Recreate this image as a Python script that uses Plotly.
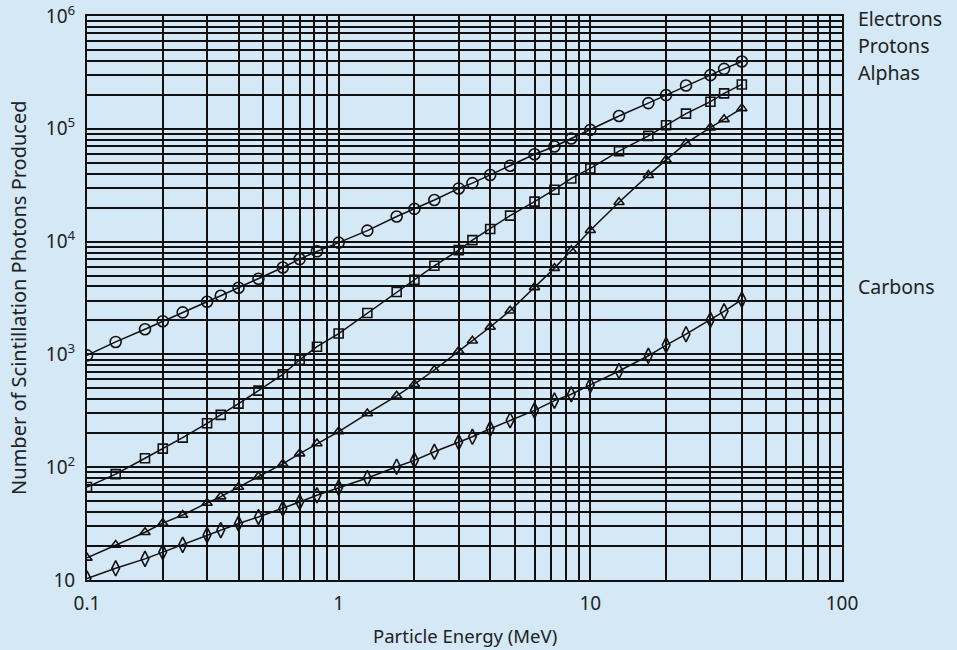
import plotly.graph_objects as go

energy = [0.1, 0.13, 0.17, 0.2, 0.24, 0.3, 0.34, 0.4, 0.48, 0.6, 0.7, 0.82,
          1, 1.3, 1.7, 2, 2.4, 3, 3.4, 4, 4.8, 6, 7.2, 8.4,
          10, 13, 17, 20, 24, 30, 34, 40]

electrons = [980, 1290, 1670, 1970, 2360, 2930, 3310, 3900, 4680, 5900, 7000, 8200,
             9800, 12500, 16700, 19500, 23400, 29600, 33000, 39000, 47000, 59500, 69600, 82000,
             97800, 130000, 169000, 199000, 242000, 299000, 340000, 395000]

protons = [66.7, 86.9, 120, 146, 183, 245, 291, 366, 477, 665, 896, 1170,
           1530, 2330, 3570, 4590, 6100, 8400, 10300, 12950, 17000, 22600, 28850, 36300,
           44500, 63300, 86500, 107400, 136200, 173900, 205900, 247300]

alphas = [15.7, 20.4, 26.5, 31.9, 37.7, 48.2, 54.9, 66.7, 82.5, 107, 132, 162,
          207, 299, 429, 544, 727, 1070, 1320, 1750, 2440, 3930, 5820, 8350,
          12600, 22300, 38800, 53100, 74500, 102500, 121300, 151700]

carbons = [10.3, 12.7, 15.4, 17.7, 20.5, 25.1, 27.7, 31.7, 36.2, 43.0, 49.2, 56.4,
           65.9, 80.1, 101, 115, 137, 167, 186, 219, 261, 319, 389, 443,
           536, 712, 972, 1210, 1510, 2030, 2410, 3060]

series_names = ["Electrons", "Protons", "Alphas", "Carbons"]
series_values = [electrons, protons, alphas, carbons]
series_symbols = ["circle-open", "square-open", "triangle-up-open", "diamond-tall-open"]
series_sizes = [11, 9, 9, 11]
label_y = [0.995, 0.947, 0.899, 0.521]

x_ticks = [m * 10 ** e for e in (-1, 0, 1) for m in range(1, 10)] + [100]
x_major = {0.1: "0.1", 1: "1", 10: "10", 100: "100"}
x_ticktext = [x_major.get(v, "") for v in x_ticks]
y_ticks = [m * 10 ** e for e in (1, 2, 3, 4, 5) for m in range(1, 10)] + [10 ** 6]
y_major = {10: "10", 100: "10<sup>2</sup>", 1000: "10<sup>3</sup>", 10000: "10<sup>4</sup>",
           100000: "10<sup>5</sup>", 1000000: "10<sup>6</sup>"}
y_ticktext = [y_major.get(v, "") for v in y_ticks]

BG = "#d4e8f6"
INK = "#111111"
TXT = "#222222"

fig = go.Figure()
for name, vals, sym, sz in zip(series_names, series_values, series_symbols, series_sizes):
    fig.add_trace(go.Scatter(
        x=energy, y=vals, mode="lines+markers", name=name,
        line=dict(color=INK, width=1.5),
        marker=dict(symbol=sym, size=sz, color=INK, line=dict(color=INK, width=1.6)),
        showlegend=False,
    ))

for name, yy in zip(series_names, label_y):
    fig.add_annotation(text=name, xref="paper", yref="paper", x=1.018, y=yy,
                       xanchor="left", yanchor="middle", showarrow=False,
                       font=dict(size=19.5, color=TXT))

# axis titles as text placed in the margins
fig.add_annotation(text="Number of Scintillation Photons Produced", xref="paper", yref="paper",
                   x=-0.0915, y=0.5, xanchor="center", yanchor="middle", textangle=-90,
                   showarrow=False, font=dict(size=20, color=TXT))
fig.add_annotation(text="Particle Energy (MeV)", xref="paper", yref="paper",
                   x=0.5, y=-0.099, xanchor="center", yanchor="middle",
                   showarrow=False, font=dict(size=18.5, color=TXT))

fig.update_xaxes(type="log", range=[-1, 2], tickvals=x_ticks, ticktext=x_ticktext,
                 showgrid=True, gridcolor=INK, gridwidth=1.6,
                 showline=True, linecolor=INK, linewidth=2, mirror=True,
                 ticks="", ticklabelstandoff=5, zeroline=False, automargin=False,
                 ticklabeloverflow="allow",
                 tickfont=dict(size=19, color=TXT))
fig.update_yaxes(type="log", range=[1, 6], tickvals=y_ticks, ticktext=y_ticktext,
                 showgrid=True, gridcolor=INK, gridwidth=1.6,
                 showline=True, linecolor=INK, linewidth=2, mirror=True,
                 ticks="", ticklabelstandoff=6, zeroline=False, automargin=False,
                 ticklabeloverflow="allow",
                 tickfont=dict(size=19, color=TXT))

fig.update_layout(
    width=957, height=650,
    margin=dict(l=87, r=115, t=16, b=70),
    paper_bgcolor=BG, plot_bgcolor=BG,
    font=dict(family="Noto Sans, Open Sans, sans-serif", color=TXT),
)

fig.write_html("out.html", config={"displayModeBar": False},
               post_script="document.body.style.margin='0';document.body.style.background='%s';" % BG)
